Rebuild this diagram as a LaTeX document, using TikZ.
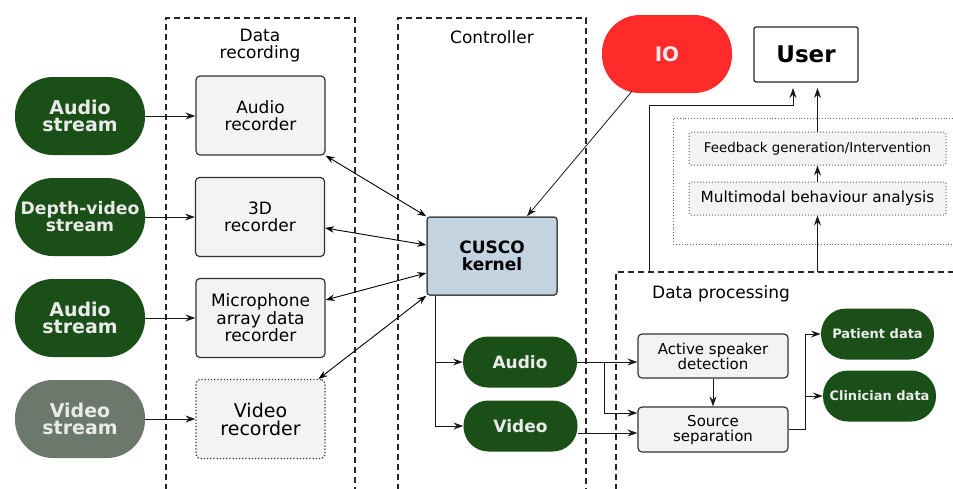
\documentclass[tikz,border=0pt]{standalone}
\usepackage{fontspec}
\setmainfont{DejaVu Sans}
\usetikzlibrary{arrows.meta,calc}
\definecolor{dgreen}{HTML}{1A4F18}
\definecolor{ggreen}{HTML}{6B786B}
\definecolor{iored}{HTML}{FF2A2A}
\definecolor{kblue}{HTML}{C3D3E0}
\definecolor{rfill}{HTML}{F4F3F1}
\definecolor{ptext}{HTML}{EAEAEA}
\begin{document}
\begin{tikzpicture}[x=1pt,y=-1pt,
  stream/.style={fill=dgreen,text=ptext,minimum width=130pt,minimum height=78pt,rounded corners=38pt,align=center,inner sep=0pt,font=\fontsize{19}{17.5}\selectfont\bfseries},
  smallpill/.style={stream,minimum width=114pt,minimum height=51pt,rounded corners=25pt},
  rec/.style={draw=black!80,line width=1.2pt,fill=rfill,rounded corners=4pt,minimum width=129pt,minimum height=79pt,align=center,inner sep=0pt,font=\fontsize{17}{17.5}\selectfont},
  proc/.style={rec,minimum width=150pt,minimum height=44pt,font=\fontsize{15}{15}\selectfont},
  dotbox/.style={draw=black!60,dotted,line width=1pt,fill=rfill,rounded corners=2pt,minimum width=257pt,minimum height=33pt,inner sep=0pt},
  title/.style={align=center,font=\fontsize{17}{17}\selectfont},
  arr/.style={-{Stealth[length=10pt,width=7pt,inset=3.5pt]},line width=1pt,draw=black!90},
  darr/.style={{Stealth[length=9pt,width=6.5pt,inset=3pt]}-{Stealth[length=9pt,width=6.5pt,inset=3pt]},line width=0.9pt},
  grp/.style={dash pattern=on 6pt off 4pt,line width=1.2pt,draw=black!85},
  dgrp/.style={dotted,line width=0.9pt,draw=black!60}
]
\useasboundingbox (0,0) rectangle (953,488);

% group frames
\draw[grp] (166,490) -- (166,18) -- (355,18) -- (355,490);
\draw[grp] (398,490) -- (398,18) -- (586,18) -- (586,490);
\draw[grp] (616,490) -- (616,272) -- (956,272);
\draw[dgrp] (956,118) -- (673,118) -- (673,244) -- (956,244);

\node[title] (trec) at (260,46) {Data\\recording};
\node[title] (tctl) at (492,37) {Controller};
\node[title] (tdp) at (721,294) {Data processing};

% streams
\node[stream] (as1) at (80,116) {Audio\\stream};
\node[stream,font=\fontsize{17.2}{17}\selectfont\bfseries] (dv) at (80,217) {Depth-video\\stream};
\node[stream] (as2) at (80,318) {Audio\\stream};
\node[stream,fill=ggreen] (vs) at (80,419) {Video\\stream};

% recorders
\node[rec] (ar) at (260.5,115.5) {Audio\\recorder};
\node[rec] (tdr) at (260,217) {3D\\recorder};
\node[rec] (mr) at (260.5,318) {Microphone\\array data\\recorder};
\node[rec,dotted,font=\fontsize{19}{18}\selectfont] (vr) at (260.5,419) {Video\\recorder};

% kernel
\node[draw=black!70,line width=1.5pt,fill=kblue,rounded corners=3pt,minimum width=130pt,minimum height=78pt,align=center,inner sep=0pt,font=\fontsize{17}{17.5}\selectfont\bfseries] (kern) at (492,256) {CUSCO\\kernel};

% IO and user
\node[stream,fill=iored,font=\fontsize{20}{20}\selectfont\bfseries] (io) at (667,54) {IO};
\node[draw=black!85,line width=1.2pt,fill=white,rounded corners=2pt,minimum width=104pt,minimum height=55pt,inner sep=0pt,font=\fontsize{23}{23}\selectfont\bfseries] (user) at (806,54.5) {User};

\node[dotbox,font=\fontsize{13.4}{13.4}\selectfont] (fb) at (817.5,148.5) {Feedback generation/Intervention};
\node[dotbox,font=\fontsize{15.3}{15.3}\selectfont] (mm) at (817.5,198.5) {Multimodal behaviour analysis};

% controller outputs
\node[smallpill,font=\fontsize{17}{17}\selectfont\bfseries] (aud) at (520,362) {Audio};
\node[smallpill,font=\fontsize{17}{17}\selectfont\bfseries] (vid) at (520.5,426) {Video};

% processing
\node[proc] (asd) at (713,356) {Active speaker\\detection};
\node[proc,minimum height=45pt] (ss) at (713,429.5) {Source\\separation};
\node[smallpill,minimum width=113pt,font=\fontsize{13}{13}\selectfont\bfseries] (pd) at (877.5,334) {Patient data};
\node[smallpill,minimum width=113pt,font=\fontsize{13}{13}\selectfont\bfseries] (cd) at (879.5,396) {Clinician data};

% stream -> recorder
\draw[arr] (as1.east) -- (as1.east -| ar.west);
\draw[arr] (dv.east) -- (dv.east -| tdr.west);
\draw[arr] (as2.east) -- (as2.east -| mr.west);
\draw[arr] (vs.east) -- (vs.east -| vr.west);

% recorder <-> kernel
\draw[darr] (ar.south east) -- (kern.north west);
\draw[darr] ([yshift=-11pt]tdr.east) -- ([yshift=11pt]kern.west);
\draw[darr] ([yshift=18pt]mr.east) -- ([yshift=-17pt]kern.west);
\draw[darr] ([xshift=-7pt]vr.north east) -- (kern.south west);

% IO -> kernel
\draw[arr,line width=0.8pt] ([xshift=-35pt,yshift=2pt]io.south) -- ([xshift=35pt]kern.north);

% kernel -> audio/video
\coordinate (k1) at ([xshift=-57pt]kern.south);
\draw[arr] (k1) |- (aud.west);
\draw[arr] (k1) |- (vid.west);

% audio/video -> processing
\draw[arr] (aud.east) -- (aud.east -| asd.west);
\draw[arr] (aud.east) -- ++(27pt,0) |- ([yshift=16.5pt]ss.west);
\draw[arr] ([yshift=-7pt]vid.east) -- ([yshift=-7pt]vid.east -| ss.west);
\draw[arr] (asd) -- (ss);

% separation -> data
\draw[arr] (ss.east) -- ++(17pt,0) |- (pd.west);
\draw[arr] (ss.east) -- ++(17pt,0) |- (cd.west);

% analysis chain
\coordinate (u1) at (817.5,88);
\coordinate (u2) at (793,88);
\coordinate (dp1) at (817.5,272);
\coordinate (dp2) at (649,272);
\draw[arr] (mm) -- (fb);
\draw[arr] (fb.north) -- (u1);
\draw[arr] (dp1) -- (mm.south);
\draw[arr] (dp2) -- (649,105) -| (u2);
\end{tikzpicture}
\end{document}
